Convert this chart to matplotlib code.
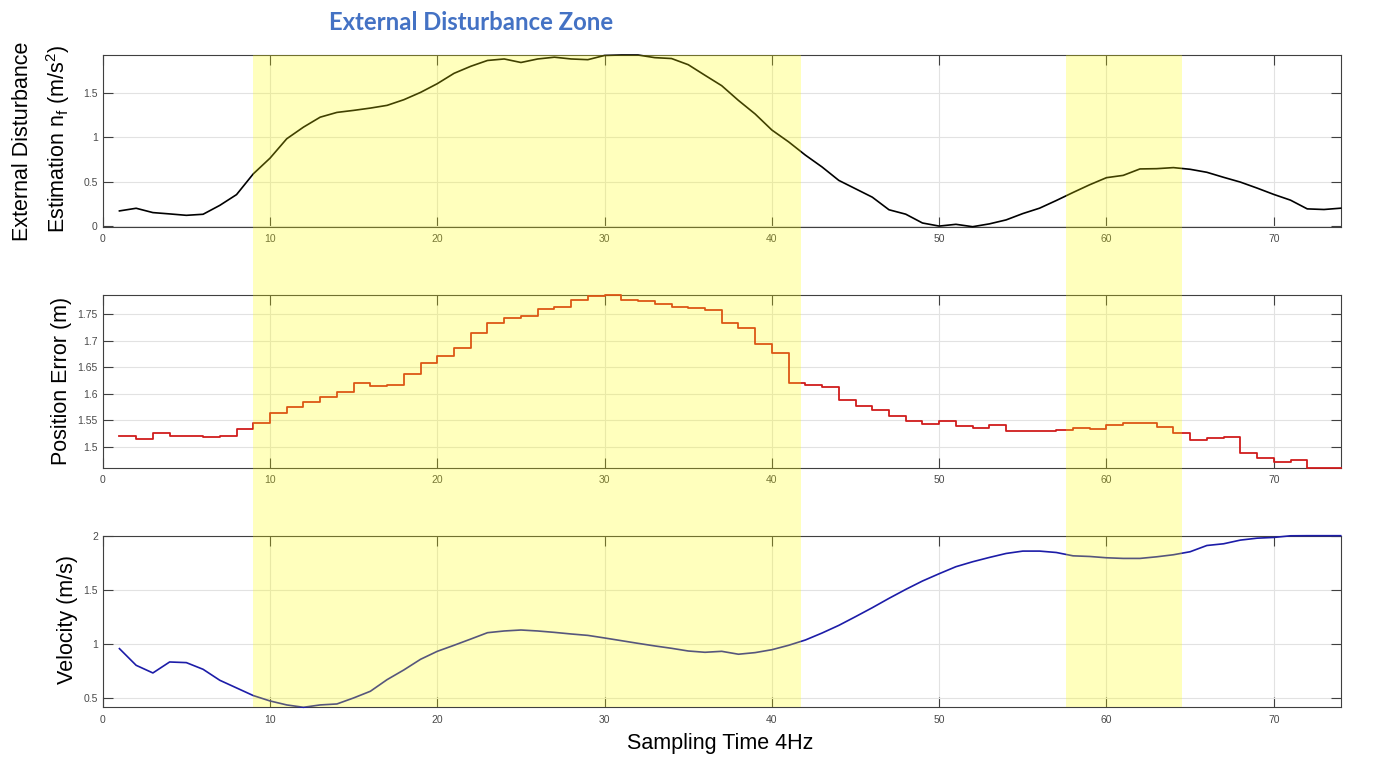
import numpy as np
import matplotlib
matplotlib.use("Agg")
import matplotlib.pyplot as plt
from matplotlib.ticker import FormatStrFormatter

# samples (4 Hz)
t = np.arange(1, 75)

# external disturbance estimate n_f (m/s^2)
dist_est = [0.167, 0.197, 0.148, 0.133, 0.117, 0.129, 0.23, 0.352, 0.587, 0.765,
            0.985, 1.117, 1.23, 1.284, 1.307, 1.333, 1.364, 1.428, 1.511, 1.61,
            1.727, 1.807, 1.873, 1.89, 1.85, 1.89, 1.91, 1.89, 1.882, 1.93,
            1.935, 1.935, 1.905, 1.895, 1.825, 1.705, 1.587, 1.42, 1.266, 1.084,
            0.95, 0.80, 0.665, 0.513, 0.418, 0.323, 0.18, 0.13, 0.03, -0.005,
            0.015, -0.012, 0.02, 0.065, 0.137, 0.198, 0.285, 0.376, 0.464, 0.544,
            0.57, 0.643, 0.646, 0.658, 0.639, 0.605, 0.548, 0.494, 0.426, 0.354,
            0.289, 0.19, 0.183, 0.198]

# position error (m)
pos_err = [1.521, 1.5145, 1.5265, 1.520, 1.521, 1.519, 1.521, 1.533, 1.545, 1.564,
           1.576, 1.585, 1.594, 1.604, 1.621, 1.615, 1.616, 1.638, 1.658, 1.672,
           1.687, 1.714, 1.734, 1.743, 1.746, 1.760, 1.763, 1.777, 1.784, 1.786,
           1.776, 1.775, 1.769, 1.764, 1.761, 1.758, 1.734, 1.723, 1.694, 1.677,
           1.620, 1.617, 1.612, 1.588, 1.577, 1.569, 1.559, 1.549, 1.543, 1.549,
           1.539, 1.535, 1.541, 1.530, 1.530, 1.531, 1.532, 1.535, 1.533, 1.541,
           1.545, 1.545, 1.538, 1.527, 1.514, 1.516, 1.518, 1.489, 1.480, 1.472,
           1.475, 1.461, 1.461, 1.461]

# velocity (m/s)
velocity = [0.955, 0.80, 0.729, 0.831, 0.825, 0.763, 0.661, 0.59, 0.519, 0.469,
            0.432, 0.41, 0.432, 0.441, 0.497, 0.559, 0.667, 0.757, 0.856, 0.93,
            0.986, 1.044, 1.103, 1.119, 1.128, 1.119, 1.106, 1.091, 1.078, 1.054,
            1.029, 1.004, 0.98, 0.958, 0.933, 0.921, 0.93, 0.903, 0.918, 0.945,
            0.986, 1.035, 1.10, 1.171, 1.252, 1.335, 1.422, 1.505, 1.583, 1.651,
            1.716, 1.762, 1.802, 1.839, 1.861, 1.861, 1.848, 1.817, 1.811, 1.799,
            1.793, 1.793, 1.808, 1.827, 1.855, 1.913, 1.929, 1.963, 1.981, 1.988,
            2.003, 2.004, 2.004, 2.004]

# disturbance zones (sample index)
zone_starts = [9.0, 57.6]
zone_ends = [41.75, 64.5]

xticks = [0, 10, 20, 30, 40, 50, 60, 70]
yticks_dist = [0, 0.5, 1, 1.5]
yticks_pos = [1.5, 1.55, 1.6, 1.65, 1.7, 1.75]
yticks_vel = [0.5, 1, 1.5, 2]

plt.rcParams['font.family'] = ['Liberation Sans', 'DejaVu Sans']
plt.rcParams['mathtext.fontset'] = 'custom'
plt.rcParams['mathtext.rm'] = 'Liberation Sans'
plt.rcParams['mathtext.it'] = 'Liberation Sans'

W, H = 1377, 761
fig = plt.figure(figsize=(W / 100, H / 100), dpi=100)

left = 102.7 / W
width = (1340.7 - 102.7) / W
rows = [(55, 226.7), (295, 467.7), (535.7, 707.3)]  # top/bottom in pixels

def make_ax(top_px, bot_px):
    return fig.add_axes([left, 1 - bot_px / H, width, (bot_px - top_px) / H])

ax1 = make_ax(*rows[0])
ax2 = make_ax(*rows[1])
ax3 = make_ax(*rows[2])

ax1.plot(t, dist_est, color='black', lw=1.2, clip_on=False, zorder=3)
ax2.step(t, pos_err, where='post', color='#d01c1c', lw=1.3, clip_on=False, zorder=3)
ax3.plot(t, velocity, color='#1c1ca8', lw=1.2, clip_on=False, zorder=3)

for ax, y, yt in [(ax1, dist_est, yticks_dist), (ax2, pos_err, yticks_pos), (ax3, velocity, yticks_vel)]:
    ax.set_xlim(0, 74)
    ax.set_ylim(min(y), max(y))
    ax.set_xticks(xticks)
    ax.set_yticks(yt)
    ax.yaxis.set_major_formatter(FormatStrFormatter('%g'))
    ax.grid(True, color='#e2e2e2', lw=0.8)
    ax.set_axisbelow(True)
    ax.tick_params(direction='in', length=7.5, width=0.8, color='#404040',
                   labelsize=7.5, labelcolor='#4a4a4a', top=True, right=True)
    ax.tick_params(axis='x', pad=5.5)
    ax.tick_params(axis='y', pad=3.5)
    for s in ax.spines.values():
        s.set_color('#404040')
        s.set_linewidth(0.8)

# yellow overlay for the disturbance zones, drawn over all three panels
ov = fig.add_axes([left, 1 - rows[2][1] / H, width, (rows[2][1] - rows[0][0]) / H], zorder=10)
ov.set_xlim(0, 74)
ov.set_ylim(0, 1)
ov.axis('off')
ov.patch.set_alpha(0)
for a, b in zip(zone_starts, zone_ends):
    ov.axvspan(a, b, color='#ffff00', alpha=0.26, lw=0)

# labels
lab = dict(fontsize=15.5, rotation=90, ha='center', va='center')
fig.text(23 / W, 1 - 141 / H, 'External Disturbance', **lab)
fig.text(58 / W, 1 - 139 / H, r'Estimation n$_\mathregular{f}$ (m/s$^\mathregular{2}$)', **lab)
fig.text(61 / W, 1 - 381 / H, 'Position Error (m)', **lab)
fig.text(68 / W, 1 - 620 / H, 'Velocity (m/s)', **lab)
fig.text(720 / W, 1 - 743 / H, 'Sampling Time 4Hz', fontsize=15.5, ha='center', va='center')

fig.text(471 / W, 1 - 23 / H, 'External Disturbance Zone', fontsize=17.2, fontweight='bold',
         color='#4472C4', ha='center', va='center', family=['Lato', 'DejaVu Sans'])

fig.savefig('out.png', dpi=100)
